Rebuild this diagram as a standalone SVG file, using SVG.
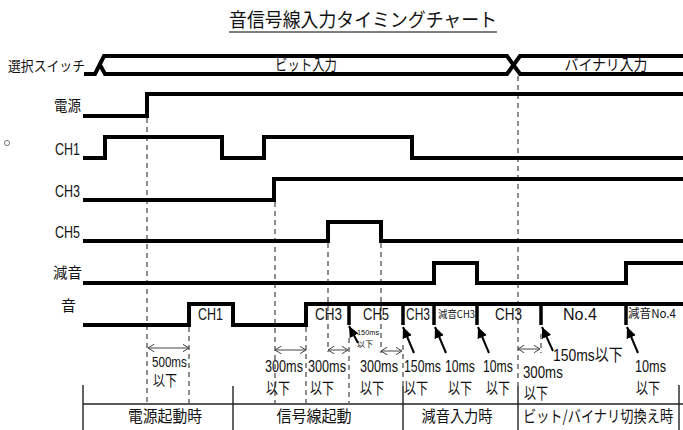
<svg xmlns="http://www.w3.org/2000/svg" width="683" height="430" viewBox="0 0 683 430">
<style>
text{font-family:"Noto Sans CJK JP","Liberation Sans",sans-serif;fill:#111}
.lat{font-family:"Liberation Sans","Noto Sans CJK JP",sans-serif}
.sig{fill:none;stroke:#000;stroke-width:4;stroke-linejoin:miter}
.tick{stroke:#000;stroke-width:3.5}
.dash{stroke:#444;stroke-width:1.2;stroke-dasharray:5,4;fill:none}
.tbl{stroke:#222;stroke-width:1.4;fill:none}
.dim{stroke:#444;stroke-width:1;fill:none;marker-start:url(#chev);marker-end:url(#chev)}
.arr{stroke:#000;stroke-width:2;fill:none;marker-end:url(#ah)}
.t17{font-size:17px}
.t16{font-size:16px}
</style>
<defs>
<marker id="ah" markerUnits="userSpaceOnUse" markerWidth="12" markerHeight="10" refX="11" refY="5" orient="auto"><path d="M0,0 L11,5 L0,10 z" fill="#000"/></marker>
<marker id="chev" markerUnits="userSpaceOnUse" markerWidth="7" markerHeight="8" refX="6.5" refY="4" orient="auto-start-reverse"><path d="M0,0 L6.5,4 L0,8" fill="none" stroke="#444" stroke-width="1"/></marker>
</defs>

<g id="title">
<text x="363" y="27" font-size="19" text-anchor="middle" textLength="268" lengthAdjust="spacingAndGlyphs">音信号線入力タイミングチャート</text>
<line x1="229" y1="32" x2="497" y2="32" stroke="#555" stroke-width="1.5"/>
</g>
<circle cx="7" cy="143" r="2.6" fill="none" stroke="#777" stroke-width="1"/>

<g id="labels">
<text x="8" y="71" font-size="14" textLength="77" lengthAdjust="spacingAndGlyphs">選択スイッチ</text>
<text x="54" y="111" font-size="15" textLength="27" lengthAdjust="spacingAndGlyphs">電源</text>
<text class="lat" x="55" y="155" font-size="16" textLength="25" lengthAdjust="spacingAndGlyphs">CH1</text>
<text class="lat" x="55" y="197" font-size="16" textLength="25" lengthAdjust="spacingAndGlyphs">CH3</text>
<text class="lat" x="55" y="238" font-size="16" textLength="25" lengthAdjust="spacingAndGlyphs">CH5</text>
<text x="53" y="278" font-size="15" textLength="29" lengthAdjust="spacingAndGlyphs">減音</text>
<text x="61" y="311" font-size="15">音</text>
</g>

<g id="connectors">
<line class="dash" x1="147" y1="118" x2="147" y2="403"/>
<line class="dash" x1="189" y1="327" x2="189" y2="403"/>
<line class="dash" x1="275" y1="202" x2="275" y2="403"/>
<line class="dash" x1="306" y1="327" x2="306" y2="403"/>
<line class="dash" x1="328" y1="243" x2="328" y2="352"/>
<line class="dash" x1="349" y1="338" x2="349" y2="403"/>
<line class="dash" x1="381" y1="243" x2="381" y2="353"/>
<line class="dash" x1="403" y1="345" x2="403" y2="386"/>
<line class="dash" x1="518" y1="76" x2="518" y2="386"/>
<line class="dash" x1="541" y1="334" x2="541" y2="353"/>

<line class="dim" x1="148" y1="348" x2="189" y2="348"/>
<line class="dim" x1="275" y1="350" x2="306" y2="350"/>
<line class="dim" x1="328" y1="350" x2="348" y2="350"/>
<line class="dim" x1="381" y1="351" x2="402" y2="351"/>
<line class="dim" x1="518" y1="349" x2="540" y2="349"/>

<line class="arr" x1="358" y1="343" x2="349" y2="326"/>
<line class="arr" x1="414" y1="353" x2="403" y2="327"/>
<line class="arr" x1="446" y1="353" x2="435" y2="327"/>
<line class="arr" x1="489" y1="353" x2="478" y2="327"/>
<line class="arr" x1="553" y1="351" x2="542" y2="327"/>
<line class="arr" x1="638" y1="353" x2="627" y2="327"/>
</g>

<g id="sw">
<path class="sig" d="M84,74 H95 L104,56 H507 L520,74 H683"/>
<path class="sig" d="M100,65 L105,74 H507 L520,56 H683"/>
<text x="306" y="70" font-size="15" text-anchor="middle" textLength="62" lengthAdjust="spacingAndGlyphs">ビット入力</text>
<text x="606" y="70" font-size="15" text-anchor="middle" textLength="83" lengthAdjust="spacingAndGlyphs">バイナリ入力</text>
</g>

<g id="power">
<path class="sig" d="M83,116 H147 V94 H683"/>
</g>

<g id="ch1">
<path class="sig" d="M83,158 H105 V137 H222 V158 H264 V137 H412 V158 H683"/>
</g>

<g id="ch3">
<path class="sig" d="M83,200 H274 V179 H683"/>
</g>

<g id="ch5">
<path class="sig" d="M83,241 H328 V222 H381 V241 H683"/>
</g>

<g id="mute">
<path class="sig" d="M83,283 H434 V263 H477 V283 H626 V263 H683"/>
</g>

<g id="sound">
<path class="sig" d="M83,325 H189 V304 H233 V325 H306 V304 H683"/>
<line class="tick" x1="349" y1="304" x2="349" y2="325"/>
<line class="tick" x1="403" y1="304" x2="403" y2="325"/>
<line class="tick" x1="434" y1="304" x2="434" y2="325"/>
<line class="tick" x1="477" y1="304" x2="477" y2="325"/>
<line class="tick" x1="541" y1="304" x2="541" y2="325"/>
<line class="tick" x1="626" y1="304" x2="626" y2="325"/>
<text class="lat" x="198" y="320" font-size="16" textLength="25" lengthAdjust="spacingAndGlyphs">CH1</text>
<text class="lat" x="315" y="320" font-size="16" textLength="27" lengthAdjust="spacingAndGlyphs">CH3</text>
<text class="lat" x="363" y="320" font-size="16" textLength="26" lengthAdjust="spacingAndGlyphs">CH5</text>
<text class="lat" x="406" y="320" font-size="16" textLength="24" lengthAdjust="spacingAndGlyphs">CH3</text>
<text x="438" y="318" font-size="10" textLength="37" lengthAdjust="spacingAndGlyphs">減音CH3</text>
<text class="lat" x="495" y="320" font-size="16" textLength="27" lengthAdjust="spacingAndGlyphs">CH3</text>
<text class="lat" x="563" y="320" font-size="16" textLength="34" lengthAdjust="spacingAndGlyphs">No.4</text>
<text x="628" y="318" font-size="12" textLength="48" lengthAdjust="spacingAndGlyphs">減音No.4</text>
</g>

<g id="timing-labels">
<text class="lat" font-size="14" transform="translate(152,367) scale(0.83,1)" textLength="42" lengthAdjust="spacingAndGlyphs">500ms</text>
<text font-size="15" transform="translate(153,386) scale(0.8,1)" textLength="30" lengthAdjust="spacingAndGlyphs">以下</text>
<text class="lat t17" transform="translate(265,372) scale(0.745,1)" textLength="51" lengthAdjust="spacingAndGlyphs">300ms</text>
<text class="t16" transform="translate(266,394) scale(0.75,1)" textLength="32" lengthAdjust="spacingAndGlyphs">以下</text>
<text class="lat t17" transform="translate(308,372) scale(0.745,1)" textLength="51" lengthAdjust="spacingAndGlyphs">300ms</text>
<text class="t16" transform="translate(310,394) scale(0.75,1)" textLength="32" lengthAdjust="spacingAndGlyphs">以下</text>
<text class="lat t17" transform="translate(360,372) scale(0.745,1)" textLength="51" lengthAdjust="spacingAndGlyphs">300ms</text>
<text class="t16" transform="translate(360,394) scale(0.75,1)" textLength="32" lengthAdjust="spacingAndGlyphs">以下</text>
<text class="lat" font-size="8" transform="translate(357,335) scale(0.92,1)" textLength="24" lengthAdjust="spacingAndGlyphs">150ms</text>
<text font-size="8" x="357" y="347">以下</text>
<text class="lat t17" transform="translate(404,372) scale(0.725,1)" textLength="51" lengthAdjust="spacingAndGlyphs">150ms</text>
<text class="t16" transform="translate(404,394) scale(0.75,1)" textLength="32" lengthAdjust="spacingAndGlyphs">以下</text>
<text class="lat t17" transform="translate(445,372) scale(0.72,1)" textLength="41.6" lengthAdjust="spacingAndGlyphs">10ms</text>
<text class="t16" transform="translate(448,394) scale(0.75,1)" textLength="32" lengthAdjust="spacingAndGlyphs">以下</text>
<text class="lat t17" transform="translate(483,372) scale(0.72,1)" textLength="41.6" lengthAdjust="spacingAndGlyphs">10ms</text>
<text class="t16" transform="translate(486,394) scale(0.75,1)" textLength="32" lengthAdjust="spacingAndGlyphs">以下</text>
<text class="lat t17" transform="translate(523,378) scale(0.78,1)" textLength="51" lengthAdjust="spacingAndGlyphs">300ms</text>
<text class="t16" transform="translate(524,399) scale(0.75,1)" textLength="32" lengthAdjust="spacingAndGlyphs">以下</text>
<text class="lat t17" transform="translate(553,361) scale(0.82,1)" textLength="85" lengthAdjust="spacingAndGlyphs">150ms以下</text>
<text class="lat t17" transform="translate(635,372) scale(0.745,1)" textLength="41.6" lengthAdjust="spacingAndGlyphs">10ms</text>
<text class="t16" transform="translate(636,394) scale(0.75,1)" textLength="32" lengthAdjust="spacingAndGlyphs">以下</text>
</g>

<g id="table">
<line class="tbl" x1="83" y1="404" x2="683" y2="404"/>
<line class="tbl" x1="83" y1="385" x2="83" y2="430"/>
<line class="tbl" x1="233" y1="386" x2="233" y2="430"/>
<line class="tbl" x1="403" y1="386" x2="403" y2="430"/>
<line class="tbl" x1="518" y1="386" x2="518" y2="430"/>
<line class="tbl" x1="679" y1="385" x2="679" y2="430"/>
<text class="t16" text-anchor="middle" transform="translate(165,422) scale(0.925,1)" textLength="80" lengthAdjust="spacingAndGlyphs">電源起動時</text>
<text class="t16" text-anchor="middle" transform="translate(314,422) scale(0.94,1)" textLength="80" lengthAdjust="spacingAndGlyphs">信号線起動</text>
<text class="t16" text-anchor="middle" transform="translate(457,422) scale(0.89,1)" textLength="80" lengthAdjust="spacingAndGlyphs">減音入力時</text>
<text class="t16" text-anchor="middle" transform="translate(598,422) scale(0.825,1)" textLength="182" lengthAdjust="spacingAndGlyphs">ビット/バイナリ切換え時</text>
</g>
</svg>
